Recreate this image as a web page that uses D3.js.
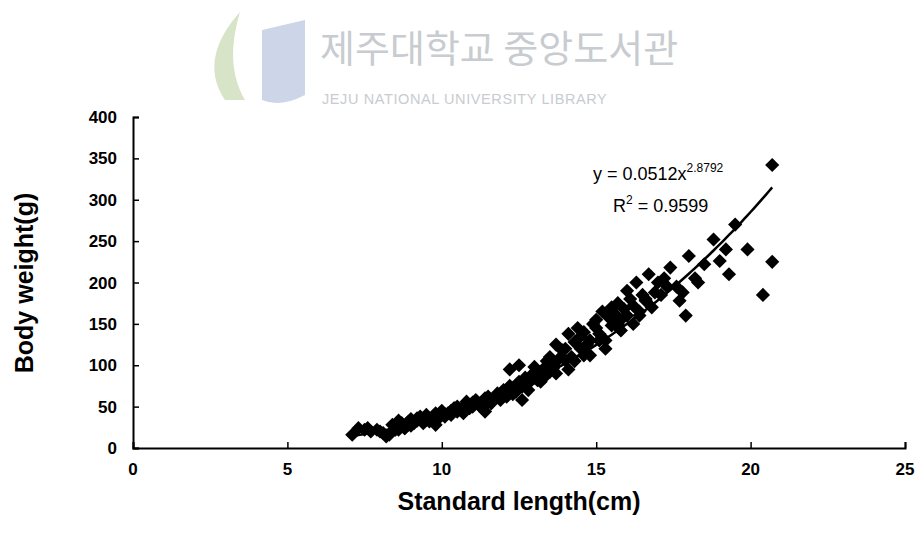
<!DOCTYPE html>
<html><head><meta charset="utf-8">
<script src="https://cdn.jsdelivr.net/npm/d3@7"></script>
<style>body{margin:0;background:#fff}</style>
</head><body>
<svg id="chart" width="923" height="538"></svg>
<script>
// Standard length (cm) and body weight (g)
const lengths = [7.1,7.3,7.5,7.7,7.9,8.1,8.3,8.4,8.5,8.6,8.6,8.7,8.8,8.9,9.0,9.0,9.1,9.2,9.3,9.4,9.5,9.5,9.6,9.7,9.8,9.9,10.0,10.0,10.1,10.2,10.3,10.4,10.5,10.5,10.6,10.7,10.8,10.9,11.0,11.0,11.1,11.2,11.3,11.4,11.5,11.5,11.6,11.7,11.8,11.9,12.0,12.0,12.1,12.2,12.2,12.3,12.4,12.5,12.5,12.6,12.7,12.8,12.9,13.0,13.0,13.1,13.2,13.3,13.4,13.5,13.5,13.6,13.7,13.8,13.9,14.0,14.0,14.1,14.2,14.3,14.4,14.5,14.5,14.6,14.7,14.8,14.9,15.0,15.0,15.1,15.2,15.3,15.4,15.5,15.5,15.6,15.7,15.8,15.9,16.0,16.0,16.1,16.2,16.3,16.4,16.5,16.6,16.7,16.8,16.9,17.0,17.2,17.4,17.6,17.8,17.9,18.0,18.2,18.5,18.8,19.0,19.2,19.3,19.5,19.9,20.4,20.7,20.7,8.2,8.8,9.2,9.8,10.3,10.8,11.4,12.3,12.6,13.3,14.1,14.6,15.3,15.8,16.2,16.6,17.3,17.7,18.3,8.5,9.5,10.4,11.6,12.8,13.7,14.8,15.6,16.4,17.1,7.6,8.0,8.9,9.4,10.1,10.7,11.3,11.9,12.4,13.1,13.6,14.3,15.1,15.7];
const weights = [16,24,22,20,22,18,16,28,26,22,33,30,24,28,35,27,30,33,38,30,35,40,32,37,42,36,40,45,38,42,45,48,44,50,46,42,52,48,55,50,58,52,48,60,56,62,54,60,66,58,64,70,62,75,95,72,68,80,100,74,85,78,88,98,85,92,80,96,105,110,92,100,125,108,118,120,106,138,110,128,145,120,135,140,125,130,150,145,155,138,165,130,158,170,148,162,175,155,168,190,160,180,172,200,165,185,178,210,170,188,200,205,218,195,188,160,232,205,222,252,226,240,210,270,240,185,225,342,14,24,36,28,40,56,44,65,58,85,95,112,120,142,150,180,195,178,200,22,34,48,58,70,90,112,150,160,185,24,20,31,36,41,47,53,62,70,82,96,105,130,150];
const xTicks = [0,5,10,15,20,25];
const yTicks = [0,50,100,150,200,250,300,350,400];
const coefA = 0.0512, coefB = 2.8792;

const svg = d3.select("#chart");
const x = d3.scaleLinear().domain([0,25]).range([133,905]);
const y = d3.scaleLinear().domain([0,400]).range([448,117]);

// watermark
svg.append("text").attr("x",320).attr("y",62).attr("font-family","Noto Sans CJK KR")
  .attr("font-size",38).attr("fill","#c8ccd0").text("제주대학교 중앙도서관");
svg.append("text").attr("x",322).attr("y",104).attr("font-family","Liberation Sans")
  .attr("font-size",14.5).attr("fill","#c8ccd0").attr("letter-spacing",0.6).text("JEJU NATIONAL UNIVERSITY  LIBRARY");
svg.append("path").attr("d","M240,12 C215,40 205,70 225,100 L245,100 C228,70 232,40 240,12Z").attr("fill","#d8e4c8");
svg.append("path").attr("d","M262,30 L305,20 L305,95 Q280,108 262,100Z").attr("fill","#ccd6e8");

// axes
svg.append("g").attr("transform","translate(0,448)")
  .call(d3.axisBottom(x).tickValues(xTicks).tickSize(-6).tickFormat(""))
  .call(g=>g.select(".domain").attr("stroke-width",2));
svg.append("g").attr("transform","translate(133,0)")
  .call(d3.axisLeft(y).tickValues(yTicks).tickSize(-6).tickFormat(""))
  .call(g=>g.select(".domain").attr("stroke-width",2));
svg.selectAll(".tick line").attr("stroke-width",1.5);

const font = "Liberation Sans, Arial, sans-serif";
svg.append("g").selectAll("text").data(xTicks).join("text")
  .attr("x",d=>x(d)).attr("y",475).attr("text-anchor","middle").attr("font-weight","bold")
  .attr("font-family",font).attr("font-size",17).text(d=>d);
svg.append("g").selectAll("text").data(yTicks).join("text")
  .attr("x",117).attr("y",d=>y(d)+6).attr("text-anchor","end").attr("font-weight","bold")
  .attr("font-family",font).attr("font-size",17).text(d=>d);

svg.append("text").attr("x",519).attr("y",510).attr("text-anchor","middle")
  .attr("font-family",font).attr("font-size",25).attr("font-weight","bold").text("Standard length(cm)");
svg.append("text").attr("transform","translate(33,283) rotate(-90)").attr("text-anchor","middle")
  .attr("font-family",font).attr("font-size",25).attr("font-weight","bold").text("Body weight(g)");

// points
svg.append("g").selectAll("path").data(lengths.map((l,i)=>[l,weights[i]])).join("path")
  .attr("transform",d=>`translate(${x(d[0])},${y(d[1])}) rotate(45)`)
  .attr("d","M-5,-5h10v10h-10z").attr("fill","#000");

// power trendline from the stated equation
const fitX = d3.range(7.0,20.71,0.1);
svg.append("path").datum(fitX)
  .attr("d",d3.line().x(d=>x(d)).y(d=>y(coefA*Math.pow(d,coefB))))
  .attr("fill","none").attr("stroke","#000").attr("stroke-width",2.5);

// equation
const eq = svg.append("text").attr("x",593).attr("y",180).attr("font-family",font).attr("font-size",18);
eq.append("tspan").text("y = 0.0512x");
eq.append("tspan").attr("dy",-8).attr("font-size",12).text("2.8792");
const r2 = svg.append("text").attr("x",613).attr("y",212).attr("font-family",font).attr("font-size",18);
r2.append("tspan").text("R");
r2.append("tspan").attr("dy",-8).attr("font-size",12).text("2");
r2.append("tspan").attr("dy",8).text(" = 0.9599");
</script>
</body></html>
